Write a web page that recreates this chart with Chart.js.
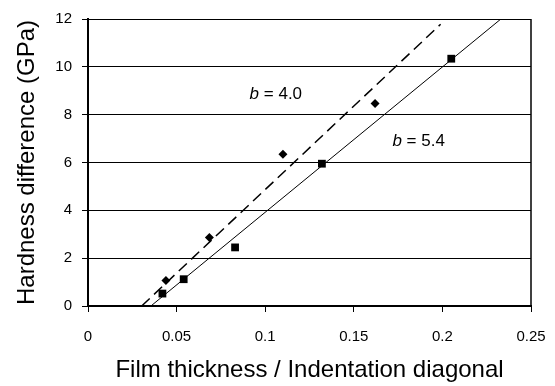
<!DOCTYPE html>
<html>
<head>
<meta charset="utf-8">
<script src="https://cdn.jsdelivr.net/npm/chart.js@4/dist/chart.umd.min.js"></script>
<style>
  html, body { margin: 0; padding: 0; background: #fff; }
  canvas { display: block; }
</style>
</head>
<body>
<canvas id="hardnessChart" width="555" height="386"></canvas>
<script>
// values
const squareX = [0.042, 0.054, 0.083, 0.132, 0.205];
const squareY = [0.52, 1.12, 2.45, 5.95, 10.34];
const diamondX = [0.044, 0.0685, 0.110, 0.162];
const diamondY = [1.07, 2.86, 6.34, 8.47];

// fitted lines (end points)
const solidFitX = [0.0355, 0.233];
const solidFitY = [0, 12];
const dashedFitX = [0.0303, 0.199];
const dashedFitY = [0, 11.78];

const xTickLabels = ['0', '0.05', '0.1', '0.15', '0.2', '0.25'];
const yTickLabels = ['0', '2', '4', '6', '8', '10', '12'];

// b labels: [x, y, value]
const bLabels = [
  [0.106, 8.85, '4.0'],
  [0.1866, 6.89, '5.4'],
];

const toPoints = (xs, ys) => xs.map((x, i) => ({ x: x, y: ys[i] }));

const FONT = "'Liberation Sans', Arial, sans-serif";

// italic "b" + " = value" text
const bLabelPlugin = {
  id: 'bLabels',
  afterDatasetsDraw(chart) {
    const ctx = chart.ctx;
    const xs = chart.scales.x, ys = chart.scales.y;
    ctx.save();
    ctx.fillStyle = '#000';
    ctx.textBaseline = 'middle';
    bLabels.forEach(([x, y, val]) => {
      ctx.font = 'italic 17px ' + FONT;
      const bw = ctx.measureText('b').width;
      ctx.font = '17px ' + FONT;
      const rest = ' = ' + val;
      const rw = ctx.measureText(rest).width;
      const left = xs.getPixelForValue(x) - (bw + rw) / 2;
      const py = ys.getPixelForValue(y);
      ctx.font = 'italic 17px ' + FONT;
      ctx.fillText('b', left, py);
      ctx.font = '17px ' + FONT;
      ctx.fillText(rest, left + bw, py);
    });
    ctx.restore();
  }
};

// right-hand frame line of the plot box
const frameRight = {
  id: 'frameRight',
  beforeDatasetsDraw(chart) {
    const { ctx, chartArea } = chart;
    ctx.save();
    ctx.strokeStyle = '#000';
    ctx.lineWidth = 1.5;
    ctx.beginPath();
    ctx.moveTo(chartArea.right, chartArea.top);
    ctx.lineTo(chartArea.right, chartArea.bottom);
    ctx.stroke();
    ctx.restore();
  }
};

const ctx = document.getElementById('hardnessChart').getContext('2d');
const hardnessChart = new Chart(ctx, {
  type: 'scatter',
  data: {
    datasets: [
      {
        label: 'b = 5.4 fit',
        data: toPoints(solidFitX, solidFitY),
        showLine: true,
        borderColor: '#000',
        borderWidth: 1,
        pointRadius: 0,
      },
      {
        label: 'b = 4.0 fit',
        data: toPoints(dashedFitX, dashedFitY),
        showLine: true,
        borderColor: '#000',
        borderWidth: 1.5,
        borderDash: [11, 6],
        pointRadius: 0,
      },
      {
        label: 'squares',
        data: toPoints(squareX, squareY),
        pointStyle: 'rect',
        pointRadius: 5.5,
        backgroundColor: '#000',
        borderColor: '#000',
        borderWidth: 0,
      },
      {
        label: 'diamonds',
        data: toPoints(diamondX, diamondY),
        pointStyle: 'rectRot',
        pointRadius: 4.5,
        backgroundColor: '#000',
        borderColor: '#000',
        borderWidth: 0,
      },
    ],
  },
  options: {
    responsive: false,
    animation: false,
    layout: { padding: { left: 0, right: 24, top: 16.5, bottom: 0 } },
    plugins: {
      legend: { display: false },
      tooltip: { enabled: false },
    },
    scales: {
      x: {
        type: 'linear',
        min: 0,
        max: 0.25,
        afterFit: (scale) => {
          scale.height = 80;
          scale.paddingRight = 0;
          scale.paddingLeft = 0;
        },
        ticks: {
          stepSize: 0.05,
          color: '#000',
          font: { family: FONT, size: 15 },
          padding: 16,
          maxRotation: 0,
          callback: (v, i) => xTickLabels[i],
        },
        grid: {
          drawOnChartArea: false,
          color: '#000',
          tickColor: '#000',
          tickLength: 6,
          lineWidth: 1,
        },
        border: { display: true, color: '#000', width: 2 },
        title: {
          display: true,
          text: 'Film thickness / Indentation diagonal',
          color: '#000',
          font: { family: FONT, size: 24 },
          padding: { top: 0, bottom: 1 },
        },
      },
      y: {
        type: 'linear',
        min: 0,
        max: 12,
        afterFit: (scale) => { scale.width = 88; },
        ticks: {
          stepSize: 2,
          color: '#000',
          font: { family: FONT, size: 15 },
          padding: 10,
          callback: (v, i) => yTickLabels[i],
        },
        grid: {
          color: '#000',
          tickColor: '#000',
          tickLength: 6,
          lineWidth: 1,
        },
        border: { display: true, color: '#000', width: 2 },
        title: {
          display: true,
          text: 'Hardness difference (GPa)',
          color: '#000',
          font: { family: FONT, size: 24 },
          padding: { top: 13, bottom: 0 },
        },
      },
    },
  },
  plugins: [frameRight, bLabelPlugin],
});
</script>
</body>
</html>
